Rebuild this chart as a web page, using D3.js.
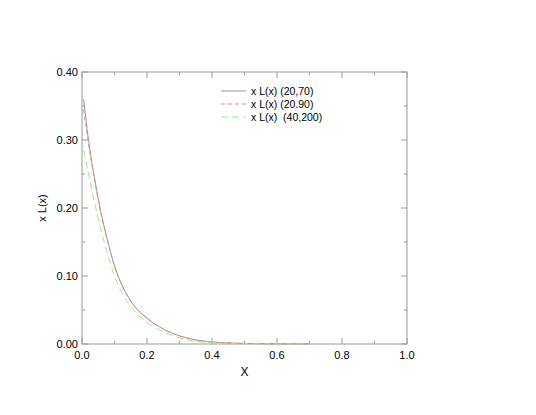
<!DOCTYPE html>
<html><head><meta charset="utf-8">
<script src="https://cdn.jsdelivr.net/npm/d3@7"></script>
<style>body{margin:0;background:#fff}text{font-family:"Liberation Sans",Arial,sans-serif;white-space:pre}</style>
</head><body><svg id="c" width="536" height="415"></svg>
<script>
const xs      = [0.005, 0.02, 0.04, 0.06, 0.08, 0.10, 0.12, 0.15, 0.20, 0.25, 0.30, 0.35, 0.40, 0.45, 0.50, 0.60, 0.70];
const s2070   = [0.360, 0.300, 0.240, 0.190, 0.150, 0.115, 0.090, 0.063, 0.038, 0.022, 0.012, 0.006, 0.003, 0.0015, 0.0008, 0.0002, 0.0001];
const s2090   = [0.345, 0.295, 0.237, 0.188, 0.149, 0.114, 0.089, 0.063, 0.038, 0.022, 0.012, 0.006, 0.003, 0.0015, 0.0008, 0.0002, 0.0001];
const s40200  = [0.285, 0.250, 0.205, 0.165, 0.130, 0.100, 0.078, 0.055, 0.032, 0.018, 0.009, 0.004, 0.002, 0.0008, 0.0004, 0.0001, 0.0];
const series = [
  {name: "x L(x) (20,70)",  vals: s2070,  color: "#999999", dash: null},
  {name: "x L(x) (20.90)",  vals: s2090,  color: "#f08080", dash: "4,3"},
  {name: "x L(x)  (40,200)", vals: s40200, color: "#90ee90", dash: "7,4"}
];
const xTicks = [0, 0.2, 0.4, 0.6, 0.8, 1.0];
const yTicks = [0, 0.1, 0.2, 0.3, 0.4];

const L = 82, R = 407, T = 72, B = 344;
const svg = d3.select("#c");
const x = d3.scaleLinear().domain([0, 1]).range([L, R]);
const y = d3.scaleLinear().domain([0, 0.4]).range([B, T]);

svg.append("rect").attr("x", L).attr("y", T).attr("width", R - L).attr("height", B - T)
  .attr("fill", "none").attr("stroke", "#999");

const g = svg.append("g").attr("stroke", "#999");
d3.range(0, 1.0001, 0.1).forEach((v, i) => {
  const len = i % 2 ? 3 : 6;
  g.append("line").attr("x1", x(v)).attr("x2", x(v)).attr("y1", B).attr("y2", B - len);
  g.append("line").attr("x1", x(v)).attr("x2", x(v)).attr("y1", T).attr("y2", T + len);
});
d3.range(0, 0.4001, 0.05).forEach((v, i) => {
  const len = i % 2 ? 3 : 6;
  g.append("line").attr("y1", y(v)).attr("y2", y(v)).attr("x1", L).attr("x2", L + len);
  g.append("line").attr("y1", y(v)).attr("y2", y(v)).attr("x1", R).attr("x2", R - len);
});

svg.selectAll(".xt").data(xTicks).enter().append("text")
  .attr("x", d => x(d)).attr("y", B + 15).attr("text-anchor", "middle")
  .attr("font-size", 11).text(d => d.toFixed(1));
svg.selectAll(".yt").data(yTicks).enter().append("text")
  .attr("x", L - 4).attr("y", d => y(d) + 4).attr("text-anchor", "end")
  .attr("font-size", 11).text(d => d.toFixed(2));

svg.append("text").attr("x", (L + R) / 2).attr("y", B + 32).attr("text-anchor", "middle")
  .attr("font-size", 12).text("X");
svg.append("text").attr("transform", `translate(${L - 36},${(T + B) / 2}) rotate(-90)`)
  .attr("text-anchor", "middle").attr("font-size", 11).text("x L(x)");

const line = d3.line().x(d => x(d[0])).y(d => y(d[1])).curve(d3.curveMonotoneX);
series.forEach((s, i) => {
  svg.append("path").datum(xs.map((v, j) => [v, s.vals[j]]))
    .attr("d", line).attr("fill", "none").attr("stroke", s.color)
    .attr("stroke-width", 1).attr("stroke-dasharray", s.dash);
  const ly = 91 + i * 13;
  svg.append("line").attr("x1", 221).attr("x2", 246).attr("y1", ly).attr("y2", ly)
    .attr("stroke", s.color).attr("stroke-dasharray", s.dash);
  svg.append("text").attr("x", 251).attr("y", ly + 4).attr("font-size", 10.5).text(s.name);
});
</script></body></html>
